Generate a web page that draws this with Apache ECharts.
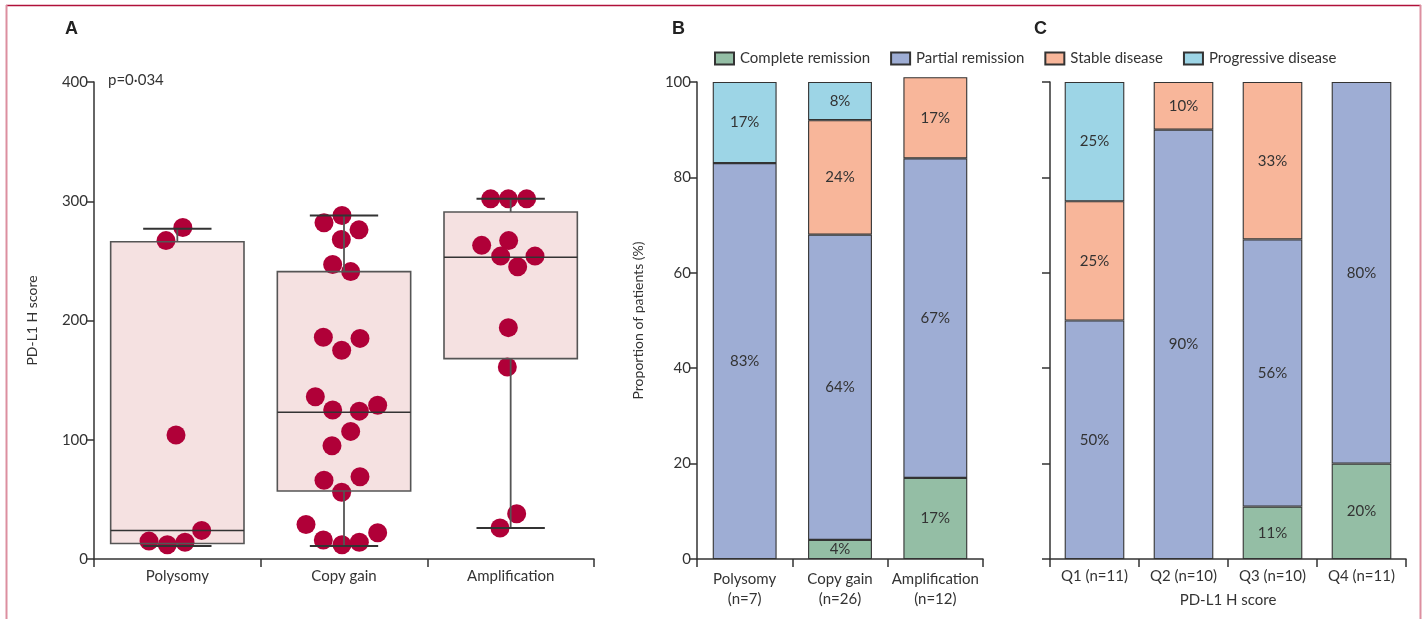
<!DOCTYPE html>
<html>
<head>
<meta charset="utf-8">
<script src="https://cdn.jsdelivr.net/npm/echarts@6/dist/echarts.min.js"></script>
<style>
  html, body { margin: 0; background: #fff; }
  #chart { width: 1424px; height: 619px; }
</style>
</head>
<body>
<div id="chart"></div>
<script>
// ===== Data =====
// panel A
const groupsA = ['Polysomy', 'Copy gain', 'Amplification'];
// [whisker low, q1, median, q3, whisker high]
const polysomyBox = [11, 13, 24, 266, 277];
const copyGainBox = [11, 57, 123, 241, 288];
const amplificationBox = [26, 168, 253, 291, 302];

const polysomyScores = [278, 267, 104, 24, 15, 12, 14];
const polysomyJitter = [0.033, -0.068, -0.008, 0.146, -0.17, -0.06, 0.046];

const copyGainScores = [288, 282, 276, 268, 247, 241, 186, 185, 175, 136, 125, 124, 129, 107, 95, 66, 69, 56, 29, 16, 12, 14, 22];
const copyGainJitter = [-0.012, -0.12, 0.09, -0.016, -0.068, 0.04, -0.124, 0.096, -0.014, -0.172, -0.068, 0.092, 0.202, 0.04, -0.072, -0.12, 0.096, -0.014, -0.228, -0.124, -0.012, 0.092, 0.202];

const amplificationScores = [302, 302, 302, 263, 267, 254, 254, 245, 194, 161, 38, 26];
const amplificationJitter = [-0.12, -0.014, 0.096, -0.174, -0.012, -0.06, 0.146, 0.042, -0.014, -0.02, 0.036, -0.064];

const yTicksA = [0, 100, 200, 300, 400];

// panel B
const groupsB = ['Polysomy\n(n=7)', 'Copy gain\n(n=26)', 'Amplification\n(n=12)'];
const completeB = [0, 4, 17];
const partialB = [83, 64, 67];
const stableB = [0, 24, 17];
const progressiveB = [17, 8, 0];

// panel C
const groupsC = ['Q1 (n=11)', 'Q2 (n=10)', 'Q3 (n=10)', 'Q4 (n=11)'];
const completeC = [0, 0, 11, 20];
const partialC = [50, 90, 56, 80];
const stableC = [25, 10, 33, 0];
const progressiveC = [25, 0, 0, 0];

const yTicksPct = [0, 20, 40, 60, 80, 100];

const responseNames = ['Complete remission', 'Partial remission', 'Stable disease', 'Progressive disease'];
const responseColors = ['#94BEA5', '#9EADD4', '#F8B69A', '#9DD5E6'];

// ===== Helpers =====
const FONT = 'Lato';
const INK = '#333';
const FS = 15;

const boxRows = [polysomyBox, copyGainBox, amplificationBox].map((b, i) => [i, ...b]);
const dotRows = [];
[[polysomyScores, polysomyJitter], [copyGainScores, copyGainJitter], [amplificationScores, amplificationJitter]]
  .forEach(([scores, jit], i) => scores.forEach((v, k) => dotRows.push([i + jit[k], v])));

const axisLine = { show: true, onZero: false, lineStyle: { color: INK, width: 1.5 } };
const axisTick = { show: true, length: 8, lineStyle: { color: INK, width: 1.5 } };
const labelStyle = { color: INK, fontSize: FS, fontFamily: FONT };

function boxFill(params, api) {
  const i = api.value(0);
  const tl = api.coord([i - 0.4, api.value(4)]);
  const br = api.coord([i + 0.4, api.value(2)]);
  return {
    type: 'rect',
    shape: { x: tl[0], y: tl[1], width: br[0] - tl[0], height: br[1] - tl[1] },
    style: { fill: '#F5E1E1', stroke: null }
  };
}

function boxLines(params, api) {
  const i = api.value(0);
  const p = k => api.coord([i, api.value(k)]);
  const half = api.size([0.4, 0])[0];
  const cap = api.size([0.205, 0])[0];
  const low = p(1), q1 = p(2), med = p(3), q3 = p(4), high = p(5);
  const ln = (x1, y1, x2, y2, c, w) => ({
    type: 'line', shape: { x1, y1, x2, y2 },
    style: { stroke: c, lineWidth: w }
  });
  return {
    type: 'group',
    children: [
      ln(low[0], q1[1], low[0], low[1], '#555', 1.8),
      ln(high[0], q3[1], high[0], high[1], '#555', 1.8),
      ln(low[0] - cap, low[1], low[0] + cap, low[1], INK, 2),
      ln(high[0] - cap, high[1], high[0] + cap, high[1], INK, 2),
      {
        type: 'rect',
        shape: { x: q3[0] - half, y: q3[1], width: half * 2, height: q1[1] - q3[1] },
        style: { fill: null, stroke: '#555', lineWidth: 1.6 }
      },
      ln(med[0] - half, med[1], med[0] + half, med[1], INK, 1.5)
    ]
  };
}

function stackBars(names, data, xi, yi, stackId) {
  return names.map((name, k) => ({
    name,
    type: 'bar',
    stack: stackId,
    xAxisIndex: xi,
    yAxisIndex: yi,
    barWidth: '67%',
    clip: false,
    data: data[k].map(v => (v ? v : '-')),
    itemStyle: { color: responseColors[k], borderColor: INK, borderWidth: 1.1 },
    label: {
      show: true, position: 'inside', color: INK, fontSize: FS, fontFamily: FONT,
      formatter: p => p.value + '%'
    },
    emphasis: { disabled: true }
  }));
}

const chart = echarts.init(document.getElementById('chart'), null, { renderer: 'canvas' });

const option = {
  animation: false,
  backgroundColor: '#fff',
  textStyle: { fontFamily: FONT },
  grid: [
    { left: 94, right: 830, top: 82, bottom: 60 },
    { left: 697, right: 441, top: 82, bottom: 60 },
    { left: 1050, right: 18, top: 82, bottom: 60 }
  ],
  legend: {
    left: 709, top: 46,
    itemWidth: 19, itemHeight: 12, itemGap: 20,
    icon: 'rect',
    data: responseNames,
    textStyle: { color: INK, fontSize: FS, fontFamily: FONT, padding: [0, 0, 0, 1] },
    selectedMode: false
  },
  xAxis: [
    {
      type: 'category', gridIndex: 0, data: groupsA, boundaryGap: true,
      axisLine, axisTick: { ...axisTick, interval: 0 },
      axisLabel: { ...labelStyle, margin: 10 }, splitLine: { show: false }
    },
    { type: 'value', gridIndex: 0, min: -0.5, max: 2.5, show: false },
    {
      type: 'category', gridIndex: 1, data: groupsB, boundaryGap: true,
      axisLine, axisTick: { ...axisTick, interval: 0 },
      axisLabel: { ...labelStyle, margin: 10, lineHeight: 20, interval: 0 }, splitLine: { show: false }
    },
    {
      type: 'category', gridIndex: 2, data: groupsC, boundaryGap: true,
      axisLine, axisTick: { ...axisTick, interval: 0 },
      axisLabel: { ...labelStyle, margin: 10, interval: 0 }, splitLine: { show: false },
      name: 'PD-L1 H score', nameLocation: 'middle', nameGap: 34,
      nameTextStyle: { color: INK, fontSize: FS, fontFamily: FONT }
    }
  ],
  yAxis: [
    {
      type: 'value', gridIndex: 0,
      min: yTicksA[0], max: yTicksA[yTicksA.length - 1], interval: yTicksA[1] - yTicksA[0],
      axisLine, axisTick, axisLabel: { ...labelStyle, margin: 6 }, splitLine: { show: false },
      name: 'PD-L1 H score', nameLocation: 'middle', nameGap: 55,
      nameTextStyle: { color: INK, fontSize: 14, fontFamily: FONT }
    },
    {
      type: 'value', gridIndex: 1,
      min: yTicksPct[0], max: yTicksPct[yTicksPct.length - 1], interval: yTicksPct[1] - yTicksPct[0],
      axisLine, axisTick, axisLabel: { ...labelStyle, margin: 6 }, splitLine: { show: false },
      name: 'Proportion of patients (%)', nameLocation: 'middle', nameGap: 52,
      nameTextStyle: { color: INK, fontSize: 14, fontFamily: FONT }
    },
    {
      type: 'value', gridIndex: 2,
      min: yTicksPct[0], max: yTicksPct[yTicksPct.length - 1], interval: yTicksPct[1] - yTicksPct[0],
      axisLine, axisTick, axisLabel: { show: false }, splitLine: { show: false }
    }
  ],
  series: [
    {
      type: 'custom', xAxisIndex: 1, yAxisIndex: 0, z: 1,
      renderItem: boxFill, data: boxRows, encode: { x: 0, y: [1, 2, 3, 4, 5] }, silent: true
    },
    {
      type: 'scatter', xAxisIndex: 1, yAxisIndex: 0, z: 2,
      data: dotRows, symbolSize: 19, itemStyle: { color: '#B00038', opacity: 1 }, silent: true
    },
    {
      type: 'custom', xAxisIndex: 1, yAxisIndex: 0, z: 3,
      renderItem: boxLines, data: boxRows, encode: { x: 0, y: [1, 2, 3, 4, 5] }, silent: true
    },
    ...stackBars(responseNames, [completeB, partialB, stableB, progressiveB], 2, 1, 'B'),
    ...stackBars(responseNames, [completeC, partialC, stableC, progressiveC], 3, 2, 'C')
  ],
  graphic: [
    // figure frame
    { type: 'line', shape: { x1: 6, y1: 5.5, x2: 1421, y2: 5.5 }, style: { stroke: '#B0103A', lineWidth: 1.5 } },
    { type: 'line', shape: { x1: 6.5, y1: 5, x2: 6.5, y2: 619 }, style: { stroke: '#DC8FA0', lineWidth: 2 } },
    { type: 'line', shape: { x1: 1420.5, y1: 5, x2: 1420.5, y2: 619 }, style: { stroke: '#DC8FA0', lineWidth: 2 } },
    // panel letters
    { type: 'text', left: 65, top: 20, style: { text: 'A', fill: '#222', font: 'bold 18px "Liberation Sans"' } },
    { type: 'text', left: 672, top: 20, style: { text: 'B', fill: '#222', font: 'bold 18px "Liberation Sans"' } },
    { type: 'text', left: 1034, top: 20, style: { text: 'C', fill: '#222', font: 'bold 18px "Liberation Sans"' } },
    { type: 'text', left: 108, top: 73, style: { text: 'p=0·034', fill: INK, font: '15px Lato' } }
  ]
};

chart.setOption(option);
</script>
</body>
</html>
